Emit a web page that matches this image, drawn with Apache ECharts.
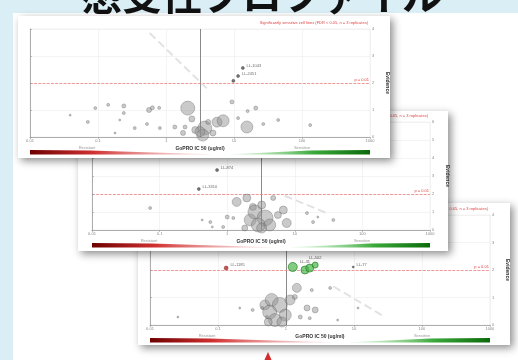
<!DOCTYPE html>
<html><head><meta charset="utf-8">
<script src="https://cdn.jsdelivr.net/npm/echarts@6/dist/echarts.min.js"></script>
<style>html,body{margin:0;padding:0;background:#daeef6}#c{width:518px;height:360px}</style>
</head><body><div id="c"></div>
<script>
// ---- data ----
const titleText = '感受性プロファイル';
const xAxisName = 'GoPRO IC 50 (ug/ml)';
const yAxisName = 'Evidence';
const xTickLabels = ['0.01','0.1','1','10','100','1000'];
const thresholdNote = 'Significantly sensitive cell lines (FDR < 0.05, n = 3 replicates)';
const thresholdLabel = 'p = 0.01';
const barLeftLabel = 'Resistant';
const barRightLabel = 'Sensitive';

// panel 1 (top)
const panel1Points = [[0.59,0.81,2],[0.85,0.56,3],[0.96,1.07,3],[1.15,1.19,3],[1.38,1.15,4],[1.38,0.89,3],[1.32,0.63,2],[1.25,0.15,2],[1.54,0.33,3],[1.72,0.48,3],[1.75,1.0,5],[1.8,1.08,4],[1.9,1.08,3],[1.91,0.33,3],[2.13,0.37,4],[2.28,0.37,4],[2.25,0.15,5],[2.32,1.07,14],[2.38,0.67,6],[2.43,0.26,7],[2.57,0.33,14],[2.54,0.07,12],[2.5,0.2,10],[2.62,0.56,5],[2.69,0.15,6],[2.75,0.55,10],[2.84,0.6,12],[2.97,1.3,4],[3.19,0.37,12],[3.2,0.96,3],[3.32,1.07,4],[3.43,0.48,3],[3.06,0.7,3],[3.65,0.63,3],[4.12,0.44,3]];
const panel1Hits = [[3.13,2.56,3],[3.06,2.26,3],[2.99,2.08,3]];
const panel1HitNames = ['LL-1043','LL-2451',''];
const panel1Cut = 2.5;
const panel1Trend = [[1.76,3.85],[2.6,1.8]];
const panel1YMax = 4;

// panel 2 (middle)
const panel2Points = [[0.86,1.22,3],[1.63,0.56,2],[1.75,0.44,3],[1.78,0.17,2],[1.94,0.17,3],[2.0,0.72,4],[2.09,0.67,3],[2.14,1.56,9],[2.29,1.78,8],[2.38,1.28,7],[2.51,1.39,8],[2.34,0.56,12],[2.41,1.0,14],[2.56,0.67,16],[2.46,0.28,14],[2.63,0.28,12],[2.51,0.11,10],[2.26,0.11,6],[2.68,1.78,5],[2.83,1.11,8],[2.88,0.39,9],[2.75,0.83,7],[3.18,0.94,3],[3.27,0.44,3],[3.34,0.72,2],[3.57,0.56,3]];
const panel2Hits = [[1.85,3.33,3],[1.58,2.28,3]];
const panel2HitNames = ['LL-874','LL-3310'];
const panel2Cut = 2.5;
const panel2Trend = [[2.85,1.9],[3.5,0.9]];
const panel2YMax = 6;

// panel 3 (bottom)
const panel3Points = [[2.16,1.35,9],[2.13,1.02,5],[2.38,1.27,3],[2.65,1.35,3],[1.69,0.73,10],[1.79,0.91,13],[1.91,0.73,15],[2.06,0.91,10],[1.76,0.47,14],[1.99,0.36,12],[1.84,0.18,13],[1.94,0.11,10],[1.74,0.11,8],[2.31,0.62,6],[2.43,0.55,6],[2.21,0.29,4],[2.35,0.25,3],[1.32,0.62,2],[1.51,0.55,3],[1.65,0.62,3],[1.72,0.29,3],[0.41,0.29,2],[2.76,0.18,2],[3.06,0.62,2]];
const panel3Hits = [[2.99,2.11,2]];
const panel3HitNames = ['LL-77'];
const panel3Green = [[2.10,2.11,9],[2.28,2.0,8],[2.35,2.07,8],[2.43,2.18,6]];
const panel3GreenNames = ['','LL-31','','LL-502'];
const panel3Red = [[1.12,2.07,4]];
const panel3RedNames = ['LL-1185'];
const panel3Cut = 2.0;
const panel3Trend = [[2.7,1.4],[3.45,0.3]];
const panel3YMax = 4;
const thresholdY = 2;

// ---- layout (pixels) ----
const panels = [
  {card:[18,16,372,142], grid:[30,29,370,137], zl:2, yMax:panel1YMax, pts:panel1Points, hits:panel1Hits, hitNames:panel1HitNames, cut:panel1Cut, trend:panel1Trend},
  {card:[78,111,370,140], grid:[92,122,430,230], zl:1, yMax:panel2YMax, pts:panel2Points, hits:panel2Hits, hitNames:panel2HitNames, cut:panel2Cut, trend:panel2Trend},
  {card:[138,203,372,142], grid:[150,215,490,325], zl:0, yMax:panel3YMax, pts:panel3Points, hits:panel3Hits, hitNames:panel3HitNames, cut:panel3Cut, trend:panel3Trend}
];

const grids=[], xAxes=[], yAxes=[], series=[], graphics=[];
graphics.push({type:'rect', shape:{x:13,y:13,width:505,height:347}, style:{fill:'#ffffff'}, zlevel:0, z:0});
graphics.push({type:'text', x:82, y:15, style:{text:titleText, fill:'#111', font:'bold 40px "Noto Sans CJK JP"', textVerticalAlign:'bottom'}, zlevel:0, z:2});
graphics.push({type:'polygon', shape:{points:[[264,361],[268,352],[272,361]]}, style:{fill:'#d42a2a'}, zlevel:0, z:2});

panels.forEach((p,i)=>{
  const [gl,gt,gr,gb]=p.grid;
  const [cx,cy,cw,ch]=p.card;
  graphics.push({type:'rect', shape:{x:cx,y:cy,width:cw,height:ch}, style:{fill:'#fff', shadowBlur:8, shadowOffsetX:3, shadowOffsetY:3, shadowColor:'rgba(0,0,0,0.45)'}, zlevel:p.zl, z:1});
  graphics.push({type:'text', x:gr-2, y:gt-6, style:{text:thresholdNote, fill:'#e04545', font:'4px "Liberation Sans"', textAlign:'right', textVerticalAlign:'middle'}, zlevel:p.zl, z:10});
  const mid=(gl+gr)/2;
  graphics.push({type:'polygon', shape:{points:[[gl,gb+13],[gl+60,gb+13.5],[mid+10,gb+17.2],[mid+10,gb+17.5],[gl,gb+17.5]]},
    style:{fill:{type:'linear',x:0,y:0,x2:1,y2:0,colorStops:[{offset:0,color:'#6e0000'},{offset:0.35,color:'#d03030'},{offset:1,color:'rgba(240,170,170,0.3)'}]}}, zlevel:p.zl, z:10});
  graphics.push({type:'polygon', shape:{points:[[mid+30,gb+17.5],[mid+30,gb+17.2],[gr-60,gb+13.5],[gr,gb+13],[gr,gb+17.5]]},
    style:{fill:{type:'linear',x:0,y:0,x2:1,y2:0,colorStops:[{offset:0,color:'rgba(170,230,170,0.3)'},{offset:0.6,color:'#3aa83a'},{offset:1,color:'#0b6a0b'}]}}, zlevel:p.zl, z:10});
  graphics.push({type:'text', x:gl+57, y:gb+11, style:{text:barLeftLabel, fill:'#999', font:'4px "Liberation Sans"', textAlign:'center', textVerticalAlign:'middle'}, zlevel:p.zl, z:10});
  graphics.push({type:'text', x:gr-68, y:gb+11, style:{text:barRightLabel, fill:'#999', font:'4px "Liberation Sans"', textAlign:'center', textVerticalAlign:'middle'}, zlevel:p.zl, z:10});

  grids.push({left:gl, top:gt, width:gr-gl, height:gb-gt, show:true, borderColor:'#e4e4e4', borderWidth:0.5, zlevel:p.zl, z:3});
  xAxes.push({type:'value', gridIndex:i, min:0, max:5, interval:1, zlevel:p.zl, z:4,
    axisLine:{show:true, onZero:false, lineStyle:{color:'#9a9a9a', width:0.8}},
    axisTick:{show:true, length:2, lineStyle:{color:'#9a9a9a', width:0.6}},
    axisLabel:{fontSize:4, color:'#888', margin:2, formatter:(v)=>xTickLabels[Math.round(v)]},
    splitLine:{show:true, lineStyle:{color:'#ededed', width:0.6}},
    name:xAxisName, nameLocation:'middle', nameGap:9, nameTextStyle:{fontSize:5, fontWeight:'bold', color:'#333'}});
  yAxes.push({type:'value', gridIndex:i, min:0, max:p.yMax, interval:1, position:'right', zlevel:p.zl, z:4,
    axisLine:{show:true, lineStyle:{color:'#9a9a9a', width:0.8}},
    axisTick:{show:true, length:2, lineStyle:{color:'#9a9a9a', width:0.6}},
    axisLabel:{fontSize:4, color:'#888', margin:2},
    splitLine:{show:true, lineStyle:{color:'#ececec', width:0.6}},
    name:yAxisName, nameLocation:'middle', nameGap:13, nameRotate:-90, nameTextStyle:{fontSize:5, fontWeight:'bold', color:'#333'}});

  series.push({type:'scatter', xAxisIndex:i, yAxisIndex:i, zlevel:p.zl, z:5, data:p.pts, symbolSize:(d)=>d[2],
    itemStyle:{color:'rgba(145,145,145,0.6)', borderColor:'rgba(90,90,90,0.7)', borderWidth:0.6},
    markLine:{silent:true, symbol:'none', animation:false, zlevel:p.zl, z:4, data:[
      {xAxis:p.cut, lineStyle:{color:'#8a8a8a', width:1, type:'solid'}, label:{show:false}},
      {yAxis:thresholdY, lineStyle:{color:'#ee7070', width:0.7, type:'dashed'}, label:{show:true, position:'insideEndTop', formatter:thresholdLabel, fontSize:4, color:'#e04545', distance:1}},
      [{coord:p.trend[0], lineStyle:{color:'#e2e2e2', width:2, type:'dashed'}, label:{show:false}},{coord:p.trend[1]}]
    ]}});
  series.push({type:'scatter', xAxisIndex:i, yAxisIndex:i, zlevel:p.zl, z:6,
    data:p.hits.map((d,k)=>({value:d, name:p.hitNames[k]})), symbolSize:(d)=>d[2],
    itemStyle:{color:'#555', borderColor:'#333', borderWidth:0.5},
    label:{show:true, position:'right', distance:2, formatter:'{b}', fontSize:4, color:'#444', offset:[0,-2]}});
});
series.push({type:'scatter', xAxisIndex:2, yAxisIndex:2, zlevel:0, z:7,
  data:panel3Green.map((d,k)=>({value:d, name:panel3GreenNames[k]})), symbolSize:(d)=>d[2],
  itemStyle:{color:'rgba(70,180,70,0.85)', borderColor:'#1f7a1f', borderWidth:0.8},
  label:{show:true, position:'top', distance:2, formatter:'{b}', fontSize:4, color:'#333'}});
series.push({type:'scatter', xAxisIndex:2, yAxisIndex:2, zlevel:0, z:7,
  data:panel3Red.map((d,k)=>({value:d, name:panel3RedNames[k]})), symbolSize:(d)=>d[2],
  itemStyle:{color:'#b52a2a', borderColor:'#7a1010', borderWidth:0.5},
  label:{show:true, position:'right', distance:2, offset:[0,-3], formatter:'{b}', fontSize:4, color:'#444'}});

const chart = echarts.init(document.getElementById('c'), null, {renderer:'canvas', width:518, height:360});
chart.setOption({backgroundColor:'#daeef6', animation:false, grid:grids, xAxis:xAxes, yAxis:yAxes, series:series, graphic:graphics});
</script></body></html>
